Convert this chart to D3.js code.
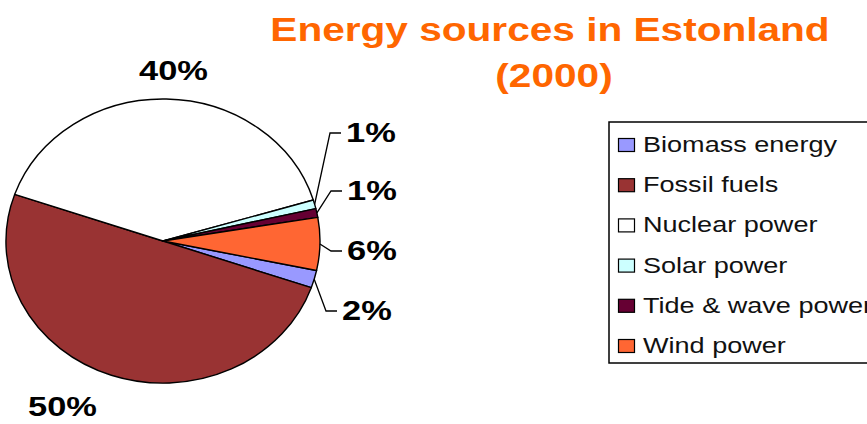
<!DOCTYPE html>
<html>
<head>
<meta charset="utf-8">
<script src="https://cdnjs.cloudflare.com/ajax/libs/d3/7.8.5/d3.min.js"></script>
<style>
  body { margin: 0; background: #fff; }
  svg { display: block; font-family: "Liberation Sans", Arial, sans-serif; }
</style>
</head>
<body>
<script>
// chart data
var sources = ["Biomass energy", "Fossil fuels", "Nuclear power", "Solar power", "Tide & wave power", "Wind power"];
var shares = [2, 50, 40, 1, 1, 6];
var labels = ["2%", "50%", "40%", "1%", "1%", "6%"];
var colors = ["#9999ff", "#993333", "#ffffff", "#ccffff", "#660033", "#ff6633"];

// where the percent labels sit (left edge of text, baseline) and if they get a leader line
var labelPos = [
  {x: 342, y: 320, leader: true},
  {x: 28,  y: 416, leader: false},
  {x: 139, y: 80,  leader: false},
  {x: 346, y: 142, leader: true},
  {x: 347, y: 200, leader: true},
  {x: 347, y: 260, leader: true}
];

var W = 867, H = 424;
var cx = 163, cy = 241, rx = 157, ry = 142;
var stretch = 1.23; // the original picture is widened, text too

var svg = d3.select("body").append("svg")
    .attr("width", W)
    .attr("height", H);

// title
var title = svg.append("g").attr("fill", "#ff6600").attr("font-weight", "bold").attr("font-size", 33);
title.append("text")
    .attr("transform", "translate(550,41) scale(" + stretch + ",1)")
    .attr("text-anchor", "middle")
    .text("Energy sources in Estonland");
title.append("text")
    .attr("transform", "translate(554,87) scale(" + stretch + ",1)")
    .attr("text-anchor", "middle")
    .text("(2000)");

// pie, first slice angle set like excel
var pie = d3.pie()
    .sort(null)
    .startAngle(102 * Math.PI / 180)
    .endAngle(462 * Math.PI / 180);

var arcs = pie(shares);
var arc = d3.arc().innerRadius(0).outerRadius(rx);

var pieG = svg.append("g")
    .attr("transform", "translate(" + cx + "," + cy + ") scale(1," + (ry / rx) + ")");

pieG.selectAll("path")
    .data(arcs)
    .enter().append("path")
    .attr("d", arc)
    .attr("fill", function(d, i) { return colors[i]; })
    .attr("stroke", "#000")
    .attr("stroke-width", 1.4)
    .attr("vector-effect", "non-scaling-stroke")
    .attr("stroke-linejoin", "round");

// edge point of a slice at its middle angle, in page coordinates
function edgePoint(d) {
  var a = (d.startAngle + d.endAngle) / 2;
  return [cx + rx * Math.sin(a), cy - ry * Math.cos(a)];
}

// leader lines
arcs.forEach(function(d, i) {
  var p = labelPos[i];
  if (!p.leader) return;
  var s = edgePoint(d);
  var pts = [s, [p.x - 16, p.y - 9], [p.x - 5, p.y - 9]];
  svg.append("path")
      .attr("d", d3.line()(pts))
      .attr("fill", "none")
      .attr("stroke", "#000")
      .attr("stroke-width", 1.3);
});

// percent labels
svg.selectAll(".pct")
    .data(arcs)
    .enter().append("text")
    .attr("class", "pct")
    .attr("transform", function(d, i) {
      return "translate(" + labelPos[i].x + "," + labelPos[i].y + ") scale(" + stretch + ",1)";
    })
    .attr("font-size", 28)
    .attr("font-weight", "bold")
    .attr("fill", "#000")
    .text(function(d, i) { return labels[i]; });

// legend
var legend = svg.append("g");
legend.append("rect")
    .attr("x", 609)
    .attr("y", 122)
    .attr("width", 300)
    .attr("height", 241)
    .attr("fill", "#fff")
    .attr("stroke", "#000")
    .attr("stroke-width", 1.5);

var rowY = d3.scalePoint().domain(sources).range([152, 353]);

var items = legend.selectAll(".item")
    .data(sources)
    .enter().append("g")
    .attr("class", "item")
    .attr("transform", function(d) { return "translate(0," + rowY(d) + ")"; });

items.append("rect")
    .attr("x", 618.5)
    .attr("y", -13.5)
    .attr("width", 16)
    .attr("height", 13)
    .attr("fill", function(d, i) { return colors[i]; })
    .attr("stroke", "#000")
    .attr("stroke-width", 1.2);

items.append("text")
    .attr("transform", "translate(643,0) scale(" + stretch + ",1)")
    .attr("font-size", 22)
    .attr("fill", "#111")
    .text(function(d) { return d; });
</script>
</body>
</html>
